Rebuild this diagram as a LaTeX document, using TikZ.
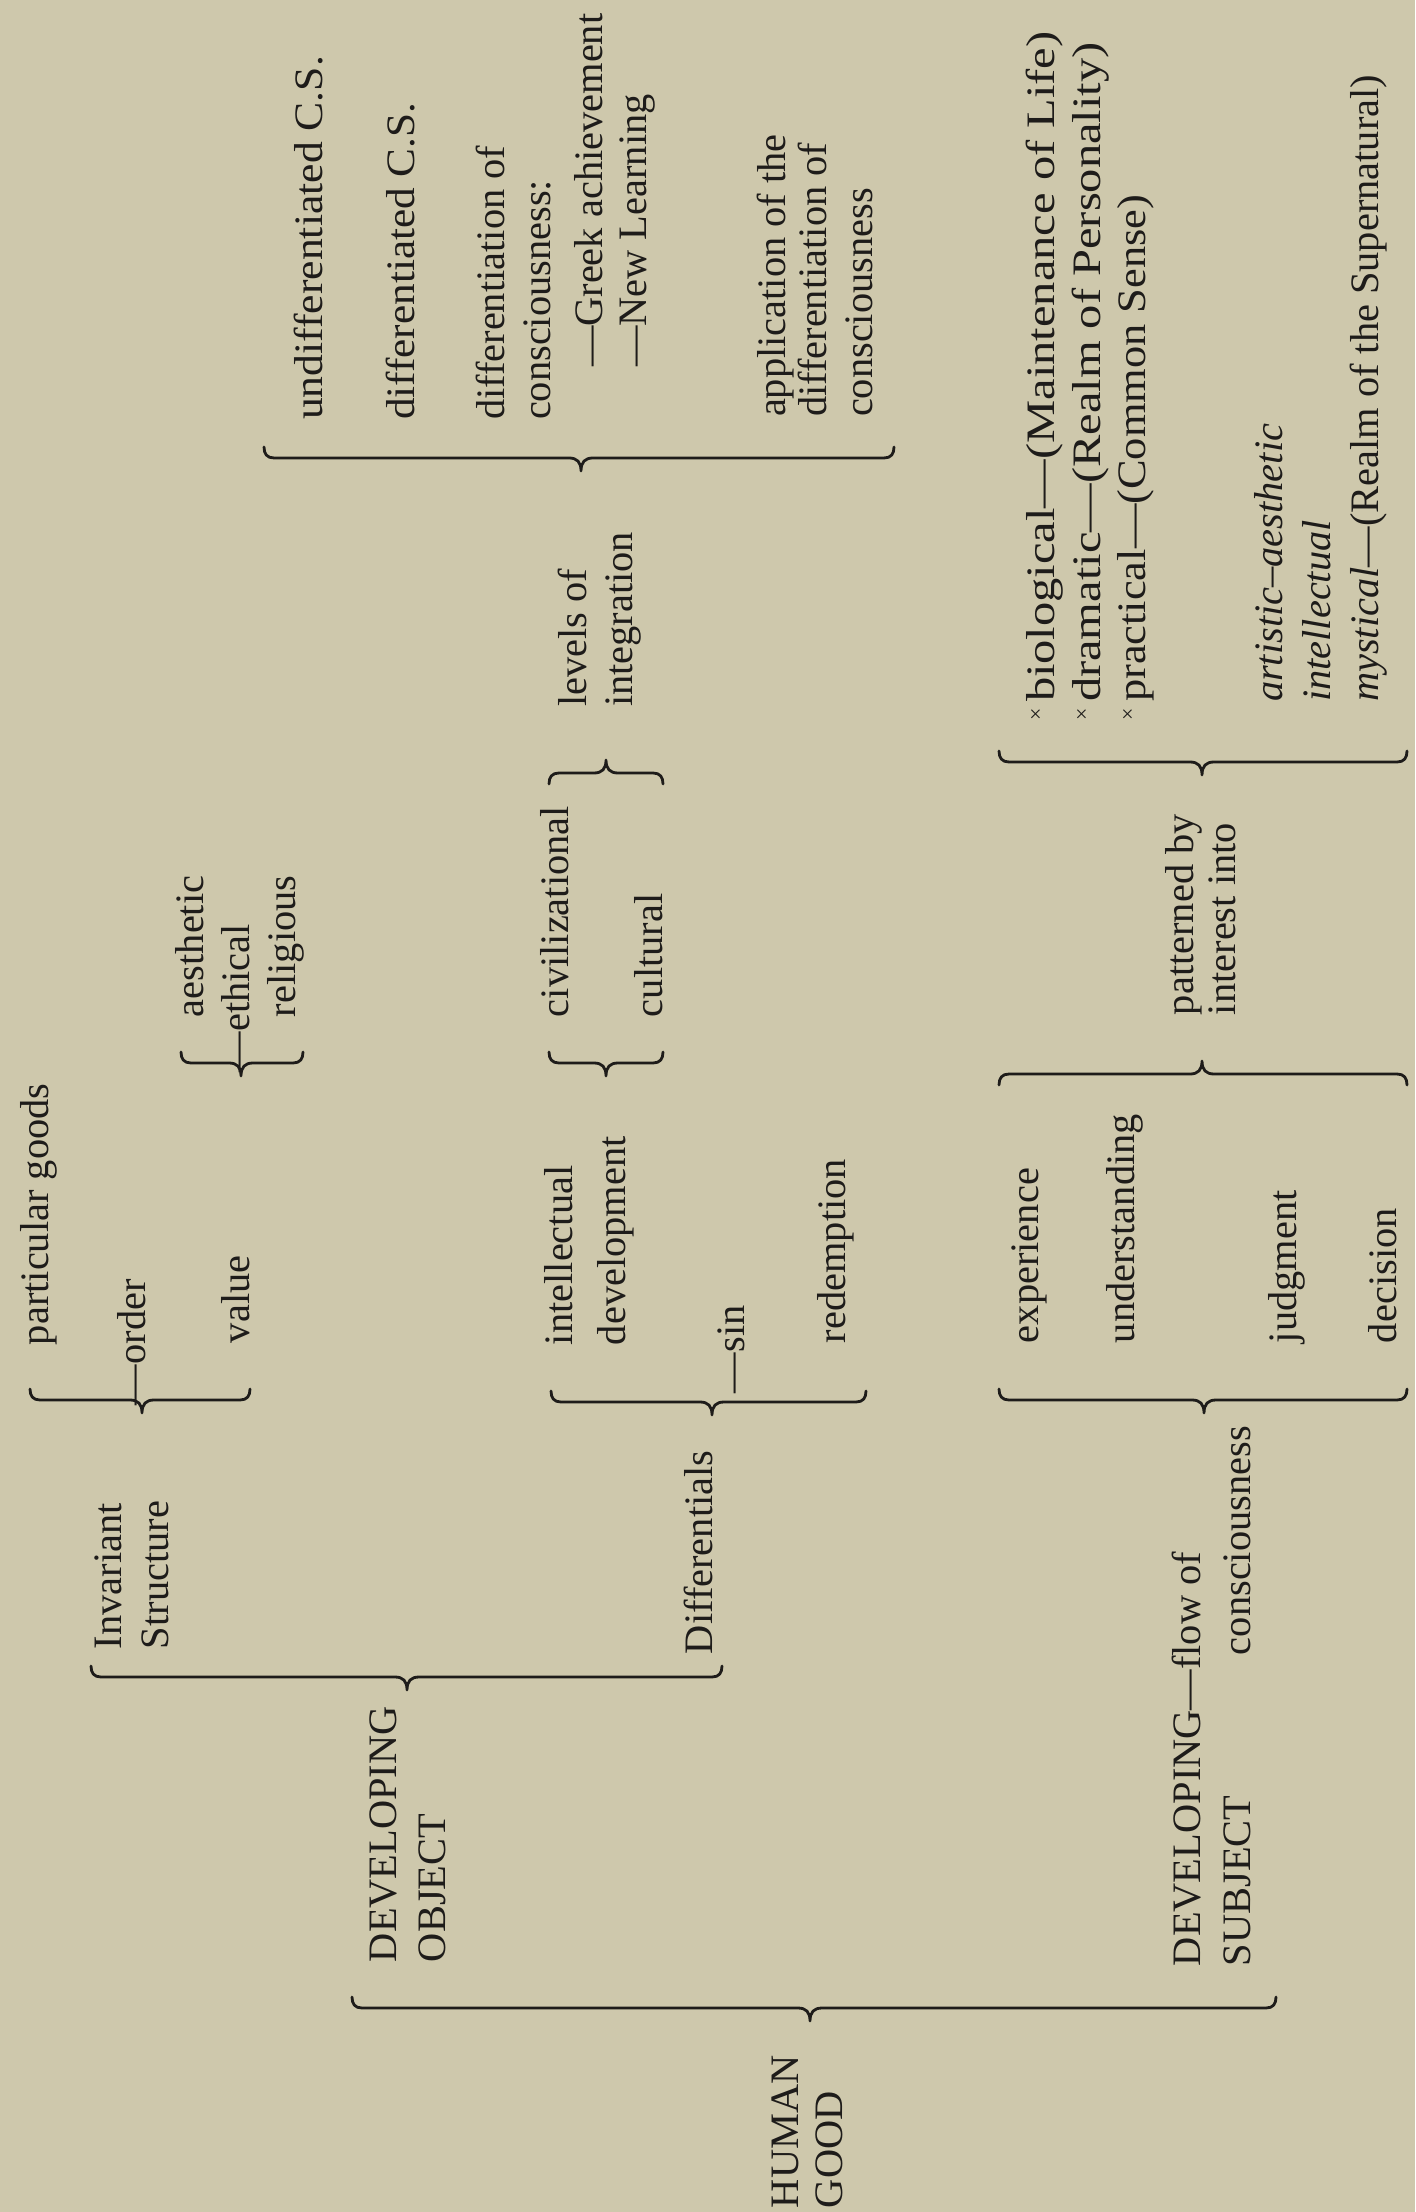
\documentclass[tikz,border=0pt]{standalone}
\usepackage{fontspec}
\setmainfont{Liberation Serif}
\definecolor{paper}{RGB}{206,200,172}
\definecolor{ink}{RGB}{30,28,26}
% horizontal curly brace: x1, x2, cusp x, line y, direction (+1 cusp down, -1 cusp up)
\newcommand\bracegl[5]{%
  \draw[brc] (#1,{#4-(#5)*11}) .. controls (#1,{#4-(#5)*4}) and ({#1+3},#4) .. ({#1+10},#4)
    -- ({#3-12},#4) .. controls ({#3-4},#4) and (#3,{#4+(#5)*4}) .. (#3,{#4+(#5)*13})
    .. controls (#3,{#4+(#5)*4}) and ({#3+4},#4) .. ({#3+12},#4)
    -- ({#2-10},#4) .. controls ({#2-3},#4) and (#2,{#4-(#5)*4}) .. (#2,{#4-(#5)*11});}
\begin{document}
\begin{tikzpicture}[x=0.25pt, y=-0.25pt,
  lbl/.style={rotate=90, anchor=base west, inner sep=0pt, outer sep=0pt, text=ink,
              font=\fontsize{10.1}{12}\selectfont},
  xm/.style={rotate=90, anchor=center, inner sep=0pt, text=ink,
             font=\fontsize{5.5}{6}\selectfont},
  brc/.style={draw=ink, line width=0.7pt, line cap=round, line join=round}]
\fill[paper] (0,0) rectangle (1415,2212);
\useasboundingbox (0,0) rectangle (1415,2212);

% ---------- Invariant structure branch ----------
\node[lbl] (partgoods) at (49,1345) {particular goods};
\node[lbl] (order)     at (145,1405) {—order};
\node[lbl] (value)     at (249,1343) {value};
\bracegl{30}{250}{142}{1400}{1}
\node[lbl] (aesth)   at (203,1017) {aesthetic};
\node[lbl] (ethical) at (249,1072) {—ethical};
\node[lbl] (relig)   at (295,1017) {religious};
\bracegl{181}{303}{241}{1063}{1}
\node[lbl] (invar)  at (121,1649) {Invariant};
\node[lbl] (struct) at (168,1649) {Structure};

% ---------- Differentials branch ----------
\node[lbl] (intel)   at (572,1345) {intellectual};
\node[lbl] (develop) at (625,1345) {development};
\node[lbl] (civil)    at (568,1017) {civilizational};
\node[lbl] (cultural) at (662,1017) {cultural};
\bracegl{549}{663}{606}{1063}{1}
\bracegl{549}{663}{606}{773}{-1}
\node[lbl] (levels) at (586,707) {levels of};
\node[lbl] (integ)  at (632,707) {integration};
\bracegl{264}{894}{581}{458}{1}
\node[lbl, xscale=1.08] (undiff)  at (322,420) {undifferentiated C.S.};
\node[lbl, xscale=1.07] (diffcs)  at (414,420) {differentiated C.S.};
\node[lbl] (diffof)  at (504,420) {differentiation of};
\node[lbl] (consca)  at (550,420) {consciousness:};
\node[lbl] (greek)   at (602,367) {—Greek achievement};
\node[lbl] (newl)    at (646,367) {—New Learning};
\node[lbl] (appl)    at (785,417) {application of the};
\node[lbl] (diffofb) at (826,417) {differentiation of};
\node[lbl] (conscb)  at (872,417) {consciousness};
\node[lbl] (sin)     at (744,1393) {—sin};
\node[lbl] (redem)   at (845,1343) {redemption};
\bracegl{551}{866}{712}{1402}{1}
\node[lbl] (differentials) at (712,1654) {Differentials};

% ---------- Developing object ----------
\bracegl{91}{722}{407}{1677}{1}
\node[lbl] (devo)  at (396,1962) {DEVELOPING};
\node[lbl] (obj)   at (445,1962) {OBJECT};

% ---------- Developing subject ----------
\node[lbl] (exper)   at (1038,1343) {experience};
\node[lbl] (underst) at (1134,1343) {understanding};
\node[lbl] (judg)    at (1296,1343) {judgment};
\node[lbl] (decis)   at (1396,1343) {decision};
\bracegl{999}{1407}{1204}{1400}{1}
\bracegl{999}{1407}{1202}{1074}{-1}
\node[lbl] (patt)  at (1193,1015) {patterned by};
\node[lbl] (inter) at (1235,1015) {interest into};
\bracegl{999}{1407}{1202}{762}{1}
\node[xm] (xa) at (1037,714) {×};
\node[xm] (xb) at (1083,714) {×};
\node[xm] (xc) at (1129,714) {×};
\node[lbl, xscale=1.2]  (bio)  at (1054,702) {biological—(Maintenance of Life)};
\node[lbl, xscale=1.2]  (dram) at (1100,702) {dramatic—(Realm of Personality)};
\node[lbl, xscale=1.1]  (prac) at (1145,702) {practical—(Common Sense)};
\node[lbl] (art)  at (1282,702) {\itshape artistic–aesthetic};
\node[lbl] (intl) at (1330,702) {\itshape intellectual};
\node[lbl] (myst) at (1378,702) {\textit{mystical}—(Realm of the Supernatural)};
\node[lbl] (devs)  at (1200,1966) {DEVELOPING—flow of};
\node[lbl] (subj)  at (1250,1966) {SUBJECT};
\node[lbl] (conscc) at (1250,1655) {consciousness};

% ---------- Human good ----------
\bracegl{352}{1276}{810}{2008}{1}
\node[lbl] (human) at (798,2208) {HUMAN};
\node[lbl] (good)  at (842,2208) {GOOD};
\end{tikzpicture}
\end{document}
